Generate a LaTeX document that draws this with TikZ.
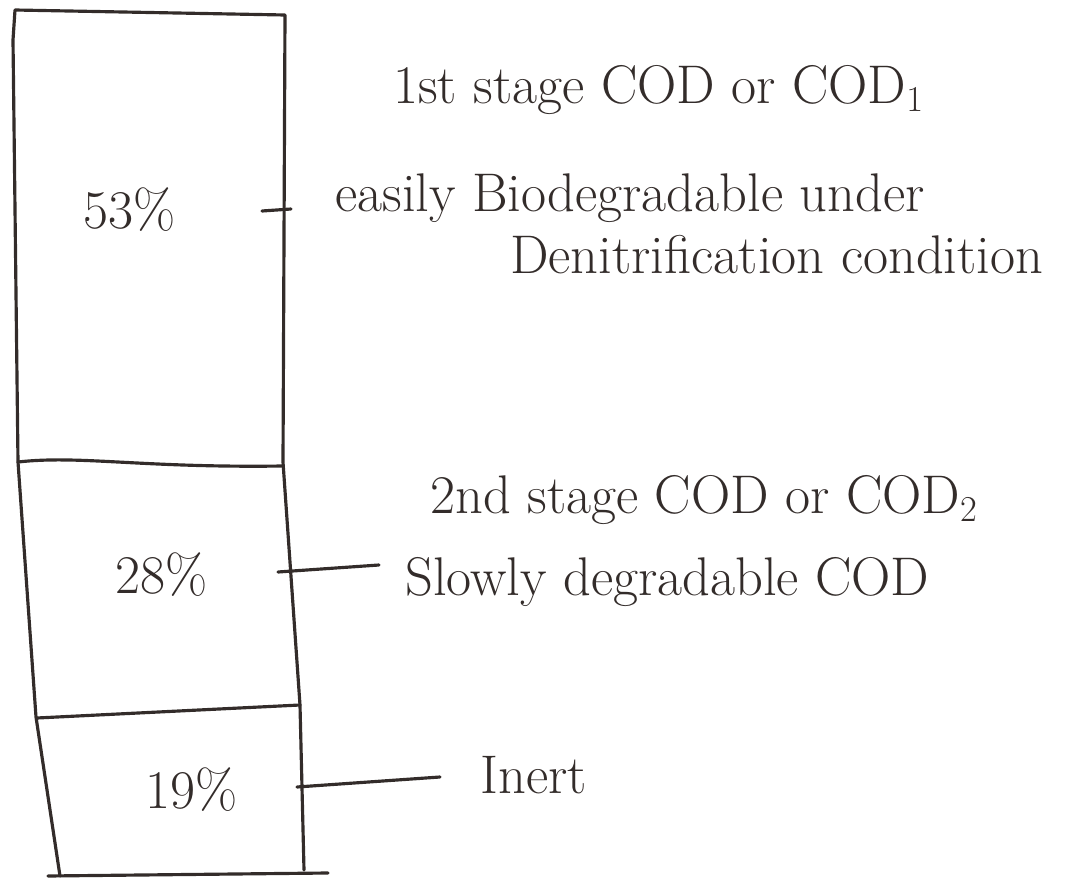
\documentclass[tikz,border=0pt]{standalone}
\usepackage{amsmath}
\usepackage{xcolor}
\definecolor{ink}{HTML}{332C2A}

\begin{document}
\begin{tikzpicture}[x=0.02cm,y=-0.02cm,
    pen/.style={draw=ink,line width=1.8pt,line cap=round,line join=round},
    hand/.style={text=ink,font=\fontsize{31}{38}\selectfont,inner sep=0pt}]
	\useasboundingbox (0,0) rectangle (1073,879);
	
	% the column
	\coordinate (tl) at (15,10);
	\coordinate (tr) at (285,15);
	\coordinate (br) at (304,870);
	\coordinate (bl) at (60,876);
	\coordinate (base-l) at (48,876);
	\coordinate (base-r) at (328,873);
	\draw[pen] (bl) -- (36,717) -- (18,462) -- (13,40) -- (tl) -- (tr) -- (283,462) -- (300,705) -- (br);
	\draw[pen] (base-l) -- (base-r);
	
	% dividers
	\coordinate (d1-l) at (18,462);
	\coordinate (d1-r) at (283,466);
	\coordinate (d2-l) at (37,718);
	\coordinate (d2-r) at (300,705);
	\draw[pen] (d1-l) .. controls (80,455) and (140,468) .. (d1-r);
	\draw[pen] (d2-l) -- (d2-r);
	
	% shares
	\node[hand] (p53) at (130,210) {53\%};
	\node[hand] (p28) at (162,575) {28\%};
	\node[hand] (p19) at (192,790) {19\%};
	
	% ticks
	\coordinate (t1-a) at (262,211);
	\coordinate (t1-b) at (291,209);
	\coordinate (t2-a) at (278,572);
	\coordinate (t2-b) at (379,565);
	\coordinate (t3-a) at (297,787);
	\coordinate (t3-b) at (440,777);
	\draw[pen] (t1-a) -- (t1-b);
	\draw[pen] (t2-a) -- (t2-b);
	\draw[pen] (t3-a) -- (t3-b);
	
	% fractions
	\node[hand,anchor=west] (cod1) at (393,90) {1st stage COD or COD$_1$};
	\node[hand,anchor=west] (easy) at (335,198) {easily Biodegradable under};
	\node[hand,anchor=west] (deni) at (510,255) {Denitrification condition};
	\node[hand,anchor=west] (cod2) at (430,500) {2nd stage COD or COD$_2$};
	\node[hand,anchor=west] (slow) at (405,582) {Slowly degradable COD};
	\node[hand,anchor=west] (inert) at (480,775) {Inert};
\end{tikzpicture}
\end{document}
